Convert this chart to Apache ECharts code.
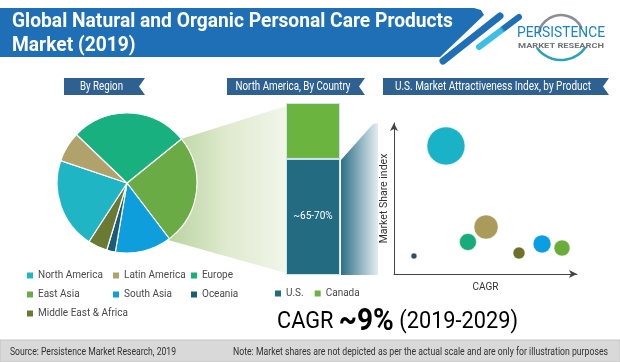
<!DOCTYPE html>
<html><head><meta charset="utf-8">
<script src="https://cdn.jsdelivr.net/npm/echarts@6/dist/echarts.min.js"></script>
<style>html,body{margin:0;padding:0;background:#fff}#c{width:620px;height:362px}</style>
</head><body><div id="c"></div>
<script>
// ---- data ----
const titleLines = ['Global Natural and Organic Personal Care Products', 'Market (2019)'];
const panelTitles = ['By Region', 'North America, By Country', 'U.S. Market Attractiveness Index, by Product'];
const regions = ['East Asia', 'South Asia', 'Oceania', 'Middle East & Africa', 'North America', 'Latin America', 'Europe'];
const regionShare = [25.5, 13, 2, 4.5, 21, 7, 27];
const legendCol1 = ['North America', 'East Asia', 'Middle East & Africa'];
const legendCol2 = ['Latin America', 'South Asia'];
const legendCol3 = ['Europe', 'Oceania'];
const countries = ['U.S.', 'Canada'];
const countryShare = [67.5, 32.5];
const usLabel = '~65-70%';
const productCagr = [2.84, 5.03, 4.04, 1.09, 6.83, 8.09, 9.18];
const productIndex = [8.48, 3.11, 2.12, 1.19, 1.39, 1.99, 1.72];
const productVolume = [14.4, 5.8, 2.9, 0.36, 1.44, 3.24, 2.56];
const axisNames = ['CAGR', 'Market Share index'];
const cagrText = ['CAGR ', '~9%', ' (2019-2029)'];
const logoText = ['PERSISTENCE', 'MARKET RESEARCH'];
const sourceText = 'Source: Persistence Market Research, 2019';
const noteText = 'Note: Market shares are not depicted as per the actual scale and are only for illustration purposes';

// ---- styles ----
const regionColors = {
  'East Asia': '#6aab45', 'South Asia': '#0e9edb', 'Oceania': '#1c5c74',
  'Middle East & Africa': '#6b7a32', 'North America': '#20b5c4',
  'Latin America': '#b0a26a', 'Europe': '#19b07f'
};
const countryColors = ['#236b80', '#6bb43f'];
const bubbleColors = ['#19b2c6', '#ab9b5a', '#17ac79', '#2d4f5e', '#6d7228', '#0a9fe2', '#6cac3a'];
const FF = 'Roboto';
const hdr = '#2f6190';

const mctx = document.createElement('canvas').getContext('2d');
function textW(text, font) { mctx.font = font; return mctx.measureText(text).width; }
function fitText(x, y, text, font, target, color, align) {
  return { type: 'text', x: x, y: y, scaleX: target / textW(text, font),
    style: { text: text, fill: color, font: font, align: align || 'left', verticalAlign: 'middle' } };
}
function header(x0, x1, y0, y1, text, tw) {
  const ym = (y0 + y1) / 2;
  return [
    { type: 'polygon', shape: { points: [[x0, y0], [x1, y0], [x1 - 6, ym], [x1, y1], [x0, y1]] }, style: { fill: hdr } },
    fitText((x0 + x1 - 6) / 2, ym, text, '12px ' + FF, tw, '#fff', 'center')
  ];
}

const titleFont = 'bold 20px ' + FF;
const titleScale = 441 / textW(titleLines[0], titleFont);
const cagrFontA = '24px ' + FF, cagrFontB = 'bold 31px ' + FF;
const cagrScale = 241 / (textW(cagrText[0], cagrFontA) + textW(cagrText[1], cagrFontB) + textW(cagrText[2], cagrFontA));

const chart = echarts.init(document.getElementById('c'), null, { renderer: 'canvas' });
const legendCommon = {
  orient: 'vertical', itemWidth: 6, itemHeight: 6, itemGap: 6, icon: 'rect', padding: 0,
  selectedMode: false, itemStyle: { borderWidth: 0 },
  textStyle: { fontFamily: FF, fontSize: 10, color: '#4a4a4a', lineHeight: 13 }
};
chart.setOption({
  animation: false,
  backgroundColor: '#fff',
  legend: [
    Object.assign({}, legendCommon, { left: 27, top: 269, data: legendCol1 }),
    Object.assign({}, legendCommon, { left: 113, top: 269, data: legendCol2 }),
    Object.assign({}, legendCommon, { left: 191, top: 269, data: legendCol3 }),
    Object.assign({}, legendCommon, { orient: 'horizontal', left: 275, top: 287, itemGap: 11, data: countries })
  ],
  grid: [
    { left: 286, top: 103, width: 54, height: 172 },
    { left: 394, top: 123, width: 183, height: 151 }
  ],
  xAxis: [
    { gridIndex: 0, type: 'category', data: ['North America'], show: false },
    { gridIndex: 1, type: 'value', min: 0, max: 10,
      name: axisNames[0], nameLocation: 'middle', nameGap: 8,
      nameTextStyle: { fontFamily: FF, fontSize: 10, color: '#333' },
      axisLine: { show: true, symbol: ['none', 'arrow'], symbolSize: [6, 8], lineStyle: { color: '#444', width: 1 } },
      axisTick: { show: false }, axisLabel: { show: false }, splitLine: { show: false } }
  ],
  yAxis: [
    { gridIndex: 0, type: 'value', min: 0, max: 100, show: false },
    { gridIndex: 1, type: 'value', min: 0, max: 10,
      name: axisNames[1], nameLocation: 'middle', nameGap: 4, nameRotate: 90,
      nameTextStyle: { fontFamily: FF, fontSize: 10.5, color: '#333' },
      axisLine: { show: true, symbol: ['none', 'arrow'], symbolSize: [6, 8], lineStyle: { color: '#444', width: 1 } },
      axisTick: { show: false }, axisLabel: { show: false }, splitLine: { show: false } }
  ],
  series: [
    { type: 'pie', center: [127, 183], radius: 70, startAngle: 39, clockwise: true,
      label: { show: false }, labelLine: { show: false }, silent: true,
      itemStyle: { borderColor: '#fff', borderWidth: 1.2 },
      data: regions.map((r, i) => ({ name: r, value: regionShare[i], itemStyle: { color: regionColors[r] } })) },
    { type: 'bar', name: countries[0], stack: 'na', xAxisIndex: 0, yAxisIndex: 0, barWidth: '100%',
      itemStyle: { color: countryColors[0], borderColor: '#cfe5ee', borderWidth: 1 },
      label: { show: true, position: 'inside', formatter: usLabel, color: '#fff', fontFamily: FF, fontSize: 10 },
      data: [countryShare[0]] },
    { type: 'bar', name: countries[1], stack: 'na', xAxisIndex: 0, yAxisIndex: 0, barWidth: '100%',
      itemStyle: { color: countryColors[1], borderColor: '#cfe5ee', borderWidth: 1 },
      data: [countryShare[1]] },
    { type: 'scatter', xAxisIndex: 1, yAxisIndex: 1,
      symbolSize: d => 10 * Math.sqrt(d[2]),
      itemStyle: { opacity: 1, borderColor: 'rgba(255,255,255,0.5)', borderWidth: 1 },
      data: productCagr.map((x, i) => ({ value: [x, productIndex[i], productVolume[i]], itemStyle: { color: bubbleColors[i] } })) }
  ],
  graphic: [
    // title banner
    { type: 'polygon', shape: { points: [[0, 8], [474, 8], [481, 10], [484, 15], [440, 57], [0, 57]] }, style: { fill: '#1e6fb5' } },
    { type: 'line', shape: { x1: 443, y1: 61, x2: 500, y2: 16 }, style: { stroke: '#1e6fb5', lineWidth: 7, lineCap: 'round' } },
    { type: 'line', shape: { x1: 479, y1: 47, x2: 519, y2: 17 },
      style: { stroke: new echarts.graphic.LinearGradient(0, 1, 1, 0, [{ offset: 0, color: '#3bbfe4' }, { offset: 0.55, color: '#3bbfe4' }, { offset: 0.6, color: '#1e6fb5' }, { offset: 1, color: '#1e6fb5' }]), lineWidth: 6, lineCap: 'round' } },
    { type: 'text', x: 12, y: 22, scaleX: titleScale, style: { text: titleLines[0], fill: '#fff', font: titleFont, verticalAlign: 'middle' } },
    { type: 'text', x: 12, y: 46, scaleX: titleScale, style: { text: titleLines[1], fill: '#fff', font: titleFont, verticalAlign: 'middle' } },
    // logo
    { type: 'arc', shape: { cx: 561, cy: 38, r: 23, startAngle: -2.9, endAngle: -0.45 }, style: { stroke: '#8a8f94', lineWidth: 2.5, fill: null } },
    { type: 'arc', shape: { cx: 561, cy: 30, r: 30, startAngle: 0.6, endAngle: 2.5 }, style: { stroke: '#2aa3b8', lineWidth: 2.5, fill: null } },
    fitText(561, 33, logoText[0], '15px ' + FF, 88, '#1b82c4', 'center'),
    fitText(561, 46, logoText[1], 'bold 7px ' + FF, 86, '#6d7378', 'center'),
    // panel headers
    ...header(64, 145, 78, 95, panelTitles[0], 43),
    ...header(227, 365, 78, 95, panelTitles[1], 115),
    ...header(383, 609, 78, 95, panelTitles[2], 196),
    // funnels
    { type: 'polygon', z: -1, shape: { points: [[181, 139], [286, 106], [286, 273], [168, 240]] },
      style: { fill: new echarts.graphic.LinearGradient(0, 0, 1, 0, [{ offset: 0, color: '#b9d3a0' }, { offset: 0.5, color: '#dfeacf' }, { offset: 1, color: '#f1f6ea' }]) } },
    { type: 'polygon', z: -1, shape: { points: [[341, 160], [373, 124], [378, 123], [378, 275], [341, 275]] },
      style: { fill: new echarts.graphic.LinearGradient(0, 0, 1, 0, [{ offset: 0, color: '#2d7085' }, { offset: 0.6, color: '#9cbcc8' }, { offset: 1, color: '#e3edf1' }]) } },
    // CAGR
    { type: 'text', x: 277, y: 322, scaleX: cagrScale, style: { text: '{a|' + cagrText[0] + '}{b|' + cagrText[1] + '}{a|' + cagrText[2] + '}', verticalAlign: 'middle',
      rich: { a: { fontFamily: FF, fontSize: 24, color: '#2c5073' }, b: { fontFamily: FF, fontSize: 31, fontWeight: 'bold', color: '#1f4e79' } } } },
    // footer
    { type: 'rect', shape: { x: 0, y: 340, width: 620, height: 22 }, style: { fill: '#d9d9d9', stroke: '#c4c4c4', lineWidth: 1 } },
    fitText(10, 352, sourceText, '10px ' + FF, 166, '#333'),
    fitText(233, 352, noteText, '10px ' + FF, 375, '#333')
  ]
});
</script></body></html>
